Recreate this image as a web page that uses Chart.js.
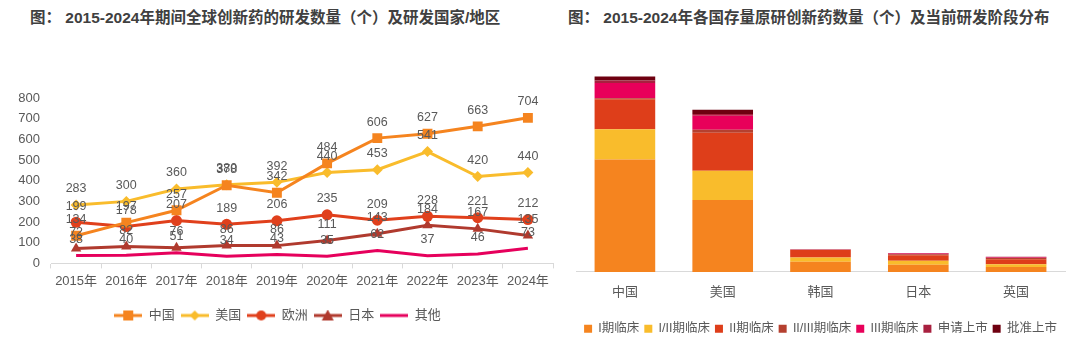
<!DOCTYPE html>
<html>
<head>
<meta charset="utf-8">
<script src="https://cdn.jsdelivr.net/npm/chart.js@4.4.1/dist/chart.umd.min.js"></script>
<style>
  body { margin: 0; width: 1080px; height: 350px; background: #fff; position: relative; overflow: hidden;
         font-family: "Liberation Sans", "Noto Sans CJK SC", sans-serif; }
  .title { position: absolute; top: 8px; line-height: 20px; font-size: 15.5px; font-weight: bold; color: #404040; white-space: nowrap; }
  #t1 { left: 30px; }
  #t2 { left: 568px; }
  #w1 { position: absolute; left: 0; top: 40px; width: 560px; height: 310px; }
  #w2 { position: absolute; left: 560px; top: 40px; width: 520px; height: 310px; }
</style>
</head>
<body>
<div class="title" id="t1">图： 2015-2024年期间全球创新药的研发数量（个）及研发国家/地区</div>
<div class="title" id="t2">图： 2015-2024年各国存量原研创新药数量（个）及当前研发阶段分布</div>
<div id="w1"><canvas id="c1"></canvas></div>
<div id="w2"><canvas id="c2"></canvas></div>
<script>
// 左图：历年研发数量
const years = ['2015年', '2016年', '2017年', '2018年', '2019年', '2020年', '2021年', '2022年', '2023年', '2024年'];
const chinaVals  = [134, 197, 257, 378, 342, 484, 606, 627, 663, 704];
const usaVals    = [283, 300, 360, 380, 392, 440, 453, 541, 420, 440];
const europeVals = [199, 178, 207, 189, 206, 235, 209, 228, 221, 212];
const japanVals  = [72, 82, 76, 86, 86, 111, 143, 184, 167, 135];
const otherVals  = [38, 40, 51, 34, 43, 35, 62, 37, 46, 73];

// 右图：各国研发阶段分布
const countries = ['中国', '美国', '韩国', '日本', '英国'];
const stageNames = ['I期临床', 'I/II期临床', 'II期临床', 'II/III期临床', 'III期临床', '申请上市', '批准上市'];
const phase1   = [560, 358, 50, 36, 25];
const phase12  = [150, 145, 22, 20, 13];
const phase2   = [150, 190, 37, 27, 25];
const phase23  = [5, 15, 1, 5, 6];
const phase3   = [75, 70, 2, 4, 3];
const filed    = [13, 8, 1, 2, 3];
const approved = [20, 21, 0, 0, 0];

const FONT = '"Liberation Sans", "Noto Sans CJK SC", sans-serif';
const GREY = '#595959';

// 折线图数值标签
const valueLabels = {
  id: 'valueLabels',
  afterDatasetsDraw(chart) {
    const ctx = chart.ctx;
    ctx.save();
    ctx.font = '12.5px ' + FONT;
    ctx.fillStyle = GREY;
    ctx.textAlign = 'center';
    ctx.textBaseline = 'middle';
    chart.data.datasets.forEach((ds, i) => {
      chart.getDatasetMeta(i).data.forEach((pt, j) => {
        ctx.fillText(ds.data[j], pt.x, pt.y - 16);
      });
    });
    ctx.restore();
  }
};

// 图例图标：线段 + 标记
function legendIcon(color, style) {
  const c = document.createElement('canvas');
  c.width = 28; c.height = 12;
  const g = c.getContext('2d');
  g.strokeStyle = color; g.fillStyle = color; g.lineWidth = 3;
  g.beginPath(); g.moveTo(0, 6); g.lineTo(28, 6); g.stroke();
  g.beginPath();
  if (style === 'rect') g.rect(9, 1, 10, 10);
  else if (style === 'rectRot') { g.moveTo(14, 1); g.lineTo(19, 6); g.lineTo(14, 11); g.lineTo(9, 6); g.closePath(); }
  else if (style === 'circle') g.arc(14, 6, 5, 0, Math.PI * 2);
  else if (style === 'triangle') { g.moveTo(14, 0); g.lineTo(20, 11); g.lineTo(8, 11); g.closePath(); }
  if (style) g.fill();
  return c;
}

const lineSeries = [
  { label: '中国', data: chinaVals,  color: '#F5841F', style: 'rect',     r: 7 },
  { label: '美国', data: usaVals,    color: '#F9BC2C', style: 'rectRot',  r: 5.5 },
  { label: '欧洲', data: europeVals, color: '#E0401C', style: 'circle',   r: 5.5 },
  { label: '日本', data: japanVals,  color: '#B03A2E', style: 'triangle', r: 6 },
  { label: '其他', data: otherVals,  color: '#E6005C', style: false,      r: 0 }
];
const icons = lineSeries.map(s => legendIcon(s.color, s.style));

new Chart(document.getElementById('c1'), {
  type: 'line',
  data: {
    labels: years,
    datasets: lineSeries.map(s => ({
      label: s.label, data: s.data,
      borderColor: s.color, backgroundColor: s.color,
      pointStyle: s.style || 'circle', pointRadius: s.r, pointBorderWidth: 0,
      borderWidth: 3, tension: 0
    }))
  },
  options: {
    animation: false, responsive: true, maintainAspectRatio: false,
    layout: { padding: { top: 58, right: 5, left: 0, bottom: 18 } },
    scales: {
      x: {
        offset: true,
        grid: { display: true, drawOnChartArea: false, offset: true, tickLength: 5, color: '#d9d9d9' },
        border: { color: '#d9d9d9' },
        ticks: { color: GREY, font: { size: 13, family: FONT }, maxRotation: 0, autoSkip: false, padding: 5 },
        afterFit(s) { s.height += 9; }
      },
      y: {
        min: 0, max: 800,
        grid: { display: false, drawTicks: false }, border: { display: false },
        ticks: { stepSize: 100, color: GREY, font: { size: 13, family: FONT }, padding: 11 },
        afterFit(s) { s.width = 51; }
      }
    },
    plugins: {
      legend: {
        position: 'bottom',
        labels: {
          usePointStyle: true, pointStyleWidth: 28, padding: 6,
          color: GREY, font: { size: 13, family: FONT },
          generateLabels(chart) {
            const items = Chart.defaults.plugins.legend.labels.generateLabels(chart);
            items.forEach((it, i) => { it.pointStyle = icons[i]; });
            return items;
          }
        }
      },
      tooltip: { enabled: false }
    }
  },
  plugins: [valueLabels]
});

const stageData = [phase1, phase12, phase2, phase23, phase3, filed, approved];
const stageColors = ['#F5841F', '#F9BC2C', '#DE3E1A', '#B5402F', '#E8005A', '#A8203F', '#6E0010'];

new Chart(document.getElementById('c2'), {
  type: 'bar',
  data: {
    labels: countries,
    datasets: stageNames.map((n, i) => ({
      label: n, data: stageData[i], backgroundColor: stageColors[i], borderWidth: 0,
      barPercentage: 0.62, categoryPercentage: 1
    }))
  },
  options: {
    animation: false, responsive: true, maintainAspectRatio: false,
    layout: { padding: { top: 21, right: 15, left: 16, bottom: 5 } },
    scales: {
      x: {
        stacked: true,
        grid: { display: false },
        border: { color: '#d9d9d9' },
        ticks: { color: GREY, font: { size: 13, family: FONT }, padding: 5 },
        afterFit(s) { s.height += 12; }
      },
      y: { stacked: true, display: false, min: 0, max: 1050 }
    },
    plugins: {
      legend: {
        position: 'bottom',
        labels: { boxWidth: 8, boxHeight: 8, padding: 5, color: GREY, font: { size: 12.5, family: FONT } }
      },
      tooltip: { enabled: false }
    }
  }
});
</script>
</body>
</html>
